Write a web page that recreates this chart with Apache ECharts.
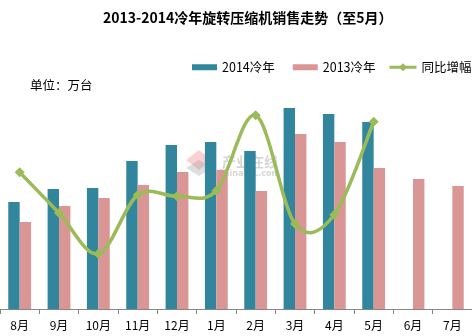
<!DOCTYPE html>
<html><head><meta charset="utf-8">
<script src="https://cdn.jsdelivr.net/npm/echarts@6/dist/echarts.min.js"></script>
<style>html,body{margin:0;padding:0;background:#fff}#c{width:472px;height:336px}</style>
</head><body><div id="c"></div>
<script>
var categories = ['8月','9月','10月','11月','12月','1月','2月','3月','4月','5月','6月','7月'];
var sales2014 = [535, 600, 605, 740, 820, 835, 790, 1005, 975, 935, null, null];
var sales2013 = [435, 515, 555, 620, 685, 695, 590, 875, 835, 705, 650, 615];
var growth = [22.8, 16.0, 9.2, 19.0, 18.8, 19.7, 32.3, 14.2, 15.7, 31.2, null, null];
var seriesNames = ['2014冷年','2013冷年','同比增幅'];

var font = '"Noto Sans CJK SC", "Microsoft YaHei", sans-serif';
var green = '#9BBB59';

// smooth curve (Excel-like Catmull-Rom) through the growth points, positioned via the chart's own axes
function renderCurve(params, api) {
  if (params.dataIndex !== 0) return null;
  var pts = [];
  for (var i = 0; i < growth.length; i++) {
    if (growth[i] != null) pts.push(api.coord([i, growth[i]]));
  }
  var d = 'M' + pts[0][0] + ' ' + pts[0][1];
  for (var k = 0; k < pts.length - 1; k++) {
    var p0 = pts[k - 1] || pts[k], p1 = pts[k], p2 = pts[k + 1], p3 = pts[k + 2] || pts[k + 1];
    var c1x = p1[0] + (p2[0] - p0[0]) / 6, c1y = p1[1] + (p2[1] - p0[1]) / 6;
    var c2x = p2[0] - (p3[0] - p1[0]) / 6, c2y = p2[1] - (p3[1] - p1[1]) / 6;
    d += ' C' + c1x + ' ' + c1y + ' ' + c2x + ' ' + c2y + ' ' + p2[0] + ' ' + p2[1];
  }
  return {
    type: 'path',
    shape: {pathData: d},
    style: {fill: null, stroke: green, lineWidth: 3.5, lineJoin: 'round'}
  };
}

var chart = echarts.init(document.getElementById('c'));
chart.setOption({
  animation: false,
  title: {
    text: '2013-2014冷年旋转压缩机销售走势（至5月）',
    left: 98, top: 6,
    textStyle: {fontSize: 14, fontWeight: 'bold', color: '#000', fontFamily: font}
  },
  legend: [{
    data: [seriesNames[0], seriesNames[1]],
    left: 187, top: 56, itemWidth: 25, itemHeight: 6, itemGap: 18,
    icon: 'rect',
    textStyle: {fontSize: 12.5, color: '#000', fontFamily: font}
  }, {
    data: [seriesNames[2]],
    left: 383, top: 56, itemWidth: 27, itemHeight: 10,
    lineStyle: {color: green, width: 3, opacity: 1},
    textStyle: {fontSize: 12.5, color: '#000', fontFamily: font}
  }],
  graphic: [{
    type: 'text', left: 30, top: 79,
    style: {text: '单位：万台', fontSize: 12.5, fill: '#000', fontFamily: font}
  }, {
    type: 'polygon', z: -1,
    shape: {points: [[186, 160], [199, 150], [212, 160], [199, 170]]},
    style: {fill: 'rgba(240,120,130,0.35)'}
  }, {
    type: 'polygon', z: -1,
    shape: {points: [[186, 168], [199, 160], [212, 168], [199, 176]]},
    style: {fill: 'rgba(150,150,150,0.3)'}
  }, {
    type: 'text', left: 222, top: 155, z: -1,
    style: {text: '产业在线', fontSize: 14, fill: 'rgba(150,150,150,0.4)', fontFamily: font, fontWeight: 'bold'}
  }, {
    type: 'text', left: 218, top: 170, z: -1,
    style: {text: 'ChinaIOL.com', fontSize: 8, fill: 'rgba(150,150,150,0.4)', fontFamily: 'DejaVu Sans', fontWeight: 'bold'}
  }],
  grid: {left: -5, right: -1, top: 9, bottom: 27, containLabel: false},
  xAxis: {
    type: 'category', data: categories,
    axisLine: {lineStyle: {color: '#868686', width: 1}},
    axisTick: {show: true, length: 5, lineStyle: {color: '#868686'}},
    axisLabel: {margin: 10, fontSize: 12, color: '#000', fontFamily: font, interval: 0}
  },
  yAxis: [{
    type: 'value', min: 0, max: 1500, show: false, splitLine: {show: false}
  }, {
    type: 'value', min: 0, max: 50, show: false, splitLine: {show: false}
  }],
  series: [{
    name: seriesNames[0], type: 'bar', data: sales2014, barWidth: '29%', barGap: '0%',
    itemStyle: {color: '#31859C'}
  }, {
    name: seriesNames[1], type: 'bar', data: sales2013, barWidth: '29%', barGap: '0%',
    itemStyle: {color: '#D99694'}
  }, {
    name: 'curve', type: 'custom', yAxisIndex: 1, data: [0], renderItem: renderCurve,
    z: 3, silent: true
  }, {
    name: seriesNames[2], type: 'line', yAxisIndex: 1, data: growth,
    symbol: 'diamond', symbolSize: 10, showSymbol: true, z: 4,
    lineStyle: {color: green, width: 3, opacity: 0},
    itemStyle: {color: green}
  }]
});
</script></body></html>
